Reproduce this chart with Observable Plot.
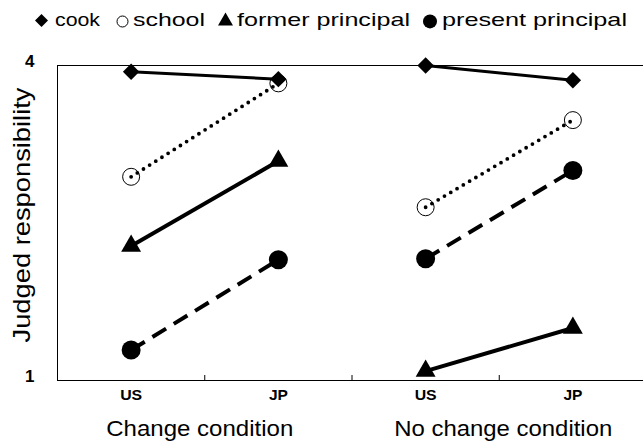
<!DOCTYPE html>
<html><head><meta charset="utf-8">
<script src="https://cdn.jsdelivr.net/npm/d3@7"></script>
<script src="https://cdn.jsdelivr.net/npm/@observablehq/plot@0.6"></script>
<style>
html,body{margin:0;padding:0;background:#fff;}
#chart{width:643px;height:448px;overflow:hidden;font-family:"Liberation Sans",Arial,sans-serif;color:#000;}
svg{display:block;}
</style></head><body><div id="chart"></div>
<script>
// ---- data ----
const series = ["cook", "school", "former principal", "present principal"];
const conditions = ["Change condition", "No change condition"];
const countries = ["US", "JP"];
const changeUS   = [3.94, 2.94, 2.28, 1.29];
const changeJP   = [3.87, 3.83, 3.09, 2.15];
const noChangeUS = [4.00, 2.65, 1.09, 2.16];
const noChangeJP = [3.86, 3.48, 1.50, 3.00];
const yTicks = [1, 4];
const yLabel = "Judged responsibility";

// ---- table ----
const byCondition = [[changeUS, changeJP], [noChangeUS, noChangeJP]];
const rows = [];
conditions.forEach((cond, ci) => countries.forEach((country, ki) => series.forEach((s, si) =>
  rows.push({series: s, condition: cond, country, pos: ci * 2 + ki + 0.5, value: byCondition[ci][ki][si]}))));

// ---- styles ----
const styles = {
  "cook":              {symbol: "diamond2", r: 7.4, fill: "black", stroke: "none",  sw: 0, lw: 3,   dash: null,    cap: "butt"},
  "school":            {symbol: "circle",   r: 8.5, fill: "none",  stroke: "black", sw: 1, lw: 3.8, dash: "0,7.3", cap: "round"},
  "former principal":  {symbol: "triangle", r: 7.4, fill: "black", stroke: "none",  sw: 0, lw: 4,   dash: null,    cap: "butt"},
  "present principal": {symbol: "circle",   r: 9.5, fill: "black", stroke: "none",  sw: 0, lw: 4,   dash: "16,9",  cap: "butt"}
};

// ---- legend (above the plot) ----
const chart = document.getElementById("chart");
const legendLayout = [
  {sym: d3.symbolDiamond2, size: 108, cx: 41.5, cy: 20.5, fill: "black", stroke: "none", tx: 55, tw: 45},
  {sym: d3.symbolCircle,   size: Math.PI * 5.5 * 5.5, cx: 122.5, cy: 21.5, fill: "none", stroke: "black", tx: 133, tw: 72},
  {sym: d3.symbolTriangle, size: 97, cx: 225.5, cy: 21.2, fill: "black", stroke: "none", tx: 237, tw: 173},
  {sym: d3.symbolCircle,   size: Math.PI * 7 * 7, cx: 430, cy: 21.4, fill: "black", stroke: "none", tx: 442, tw: 185}
];
const lg = d3.create("svg").attr("width", 643).attr("height", 44)
  .style("font-family", '"Liberation Sans", Arial, sans-serif');
series.forEach((s, i) => {
  const L = legendLayout[i];
  lg.append("path").attr("d", d3.symbol(L.sym, L.size)())
    .attr("transform", `translate(${L.cx},${L.cy})`)
    .attr("fill", L.fill).attr("stroke", L.stroke).attr("stroke-width", 1);
  lg.append("text").attr("x", L.tx).attr("y", 26).attr("font-size", 18.5)
    .attr("textLength", L.tw).attr("lengthAdjust", "spacingAndGlyphs").text(s);
});
chart.appendChild(lg.node());

// ---- plot ----
const marks = [
  Plot.ruleY([1, 4], {stroke: "black", strokeWidth: 1}),
  Plot.ruleX([0], {y1: 1, y2: 4, stroke: "black", strokeWidth: 1})
];
for (const s of series) {
  const st = styles[s];
  const data = rows.filter(d => d.series === s);
  marks.push(Plot.line(data, {x: "pos", y: "value", z: "condition", stroke: "black",
    strokeWidth: st.lw, strokeDasharray: st.dash, strokeLinecap: st.cap}));
}
for (const s of series) {
  const st = styles[s];
  const data = rows.filter(d => d.series === s);
  marks.push(Plot.dot(data, {x: "pos", y: "value", symbol: () => st.symbol, r: st.r,
    fill: st.fill, stroke: st.stroke, strokeWidth: st.sw}));
}
marks.push(
  Plot.axisX({ticks: [1, 2, 3, 4], tickSize: -5, tickFormat: () => "", label: null}),
  Plot.axisX({ticks: [0.5, 1.5, 2.5, 3.5], tickSize: 0, tickPadding: 9, label: null,
    tickFormat: d => countries[Math.floor(d) % 2], fontSize: 15, fontWeight: "bold"}),
  Plot.axisX({ticks: [1], tickSize: 0, tickPadding: 40, label: null, dx: -5,
    tickFormat: () => conditions[0], fontSize: 22}),
  Plot.axisX({ticks: [3], tickSize: 0, tickPadding: 40, label: null, dx: 4,
    tickFormat: () => conditions[1], fontSize: 22}),
  Plot.axisY({ticks: yTicks, tickSize: 0, tickPadding: 23, label: null, dy: -4,
    tickFormat: d => String(d), fontSize: 17, fontWeight: "bold"}),
  Plot.text([yLabel], {text: d => d, frameAnchor: "left", textAnchor: "middle", rotate: -90,
    dx: -35, dy: -8, fontSize: 24})
);

const svg = Plot.plot({
  width: 643, height: 404,
  marginLeft: 57, marginRight: 0, marginTop: 21, marginBottom: 68,
  style: {fontFamily: '"Liberation Sans", Arial, sans-serif', color: "black", background: "white", overflow: "visible"},
  x: {type: "linear", domain: [0, 4], range: [57, 646]},
  y: {domain: [1, 4]},
  symbol: {type: "identity"},
  marks
});
const lengths = {"Change condition": 187, "No change condition": 218, "Judged responsibility": 255, "US": 22, "JP": 19};
d3.select(svg).selectAll("text").each(function() {
  const t = this.textContent;
  if (lengths[t]) d3.select(this).attr("textLength", lengths[t]).attr("lengthAdjust", "spacingAndGlyphs");
});
d3.select(svg).selectAll("text").attr("fill", "black");
chart.appendChild(svg);
</script></body></html>
